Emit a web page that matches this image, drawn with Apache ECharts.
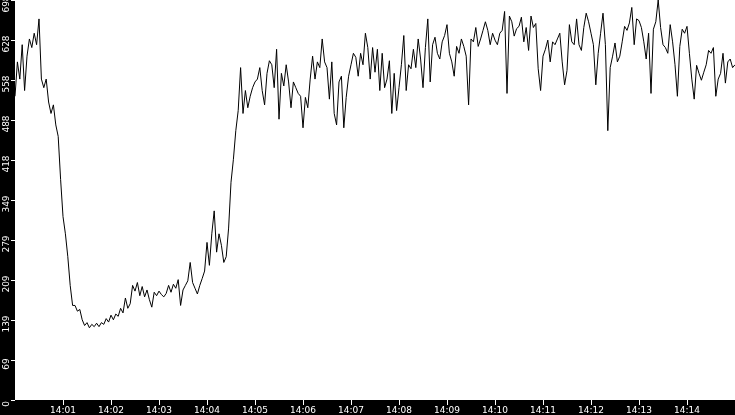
<!DOCTYPE html>
<html>
<head>
<meta charset="utf-8">
<script src="https://cdn.jsdelivr.net/npm/echarts@6/dist/echarts.min.js"></script>
<style>
  html, body { margin: 0; padding: 0; background: #000; }
  #main { width: 735px; height: 415px; }
</style>
</head>
<body>
<div id="main"></div>
<script>
// 采样间隔（秒），从 14:00:00 开始
var stepSeconds = 3;

// x 轴刻度标签（每分钟一个）
var minuteLabels = ['14:00', '14:01', '14:02', '14:03', '14:04', '14:05', '14:06', '14:07',
  '14:08', '14:09', '14:10', '14:11', '14:12', '14:13', '14:14', '14:15'];

// y 轴刻度标签
var yTickLabels = ['0', '69', '139', '209', '279', '349', '418', '488', '558', '628', '698'];
var yMax = 698;

// 读数
var values = [
  530, 590, 560, 620, 540, 600, 630, 615, 640, 620,
  665, 560, 545, 560, 520, 500, 515, 480, 460, 385,
  320, 290, 250, 200, 165, 165, 155, 158, 140, 130,
  135, 126, 132, 128, 134, 128, 135, 132, 142, 136,
  148, 140, 150, 146, 160, 152, 178, 160, 168, 200,

  190, 205, 182, 198, 180, 192, 175, 162, 188, 182,
  190, 184, 180, 186, 200, 188, 202, 195, 210, 165,
  192, 200, 208, 240, 205, 195, 185, 200, 212, 225,
  275, 235, 290, 330, 258, 290, 270, 240, 250, 300,
  380, 420, 470, 505, 580, 500, 540, 510, 530, 545,

  555, 560, 580, 540, 515, 570, 592, 585, 545, 612,
  490, 570, 548, 585, 555, 510, 555, 545, 535, 530,
  475, 528, 510, 560, 600, 560, 590, 580, 630, 590,
  580, 525, 590, 500, 480, 555, 565, 475, 528, 565,
  585, 605, 598, 565, 605, 585, 640, 615, 560, 615,

  572, 612, 540, 605, 545, 560, 592, 500, 570, 505,
  545, 585, 636, 540, 585, 578, 612, 580, 630, 595,
  545, 615, 665, 555, 620, 633, 605, 595, 625, 636,
  655, 605, 590, 565, 617, 605, 630, 617, 600, 515,
  630, 625, 650, 617, 630, 645, 660, 645, 620, 640,

  628, 620, 640, 645, 678, 535, 670, 660, 635, 648,
  652, 668, 625, 650, 610, 670, 650, 657, 578, 540,
  600, 612, 628, 590, 625, 620, 630, 640, 590, 550,
  575, 655, 625, 620, 665, 620, 610, 650, 675, 660,
  640, 620, 550, 605, 640, 675, 620, 470, 580, 600,

  623, 590, 600, 625, 652, 645, 658, 685, 620, 665,
  662, 650, 625, 595, 640, 535, 647, 660, 698, 650,
  620, 615, 605, 655, 625, 585, 530, 617, 647, 640,
  652, 605, 560, 525, 584, 570, 558, 572, 585, 610,
  605, 615, 530, 560, 570, 605, 553, 590, 595, 580,
  585
];

var chart = echarts.init(document.getElementById('main'), null, { renderer: 'canvas' });

var seriesData = values.map(function (v, i) { return [i * stepSeconds, v]; });

var option = {
  backgroundColor: '#000',
  animation: false,
  grid: {
    left: 15,
    right: 0,
    top: 0,
    bottom: 15,
    outerBoundsMode: 'none',
    containLabel: false,
    show: true,
    backgroundColor: '#fff',
    borderWidth: 0
  },
  xAxis: {
    type: 'value',
    min: 0,
    max: (minuteLabels.length - 1) * 60,
    interval: 60,
    axisLine: { show: false },
    splitLine: { show: false },
    axisTick: { show: true, length: 5, lineStyle: { color: '#fff', width: 1 } },
    axisLabel: {
      color: '#fff',
      fontFamily: 'DejaVu Sans',
      fontSize: 9,
      margin: 6,
      showMinLabel: false,
      showMaxLabel: false,
      formatter: function (v) { return minuteLabels[Math.round(v / 60)]; }
    }
  },
  yAxis: {
    type: 'value',
    min: 0,
    max: yMax,
    interval: yMax / 10,
    axisLine: { show: false },
    splitLine: { show: false },
    axisTick: { show: true, length: 4, lineStyle: { color: '#fff', width: 1 } },
    axisLabel: {
      color: '#fff',
      fontFamily: 'DejaVu Sans',
      fontSize: 9,
      rotate: 90,
      margin: 4,
      align: 'center',
      verticalAlign: 'bottom',
      padding: [0, 8, 0, 0],
      formatter: function (v) { return yTickLabels[Math.round(v / (yMax / 10))]; }
    }
  },
  series: [{
    type: 'line',
    data: seriesData,
    showSymbol: false,
    symbol: 'none',
    lineStyle: { color: '#000', width: 1 },
    clip: true
  }]
};

chart.setOption(option);
</script>
</body>
</html>
